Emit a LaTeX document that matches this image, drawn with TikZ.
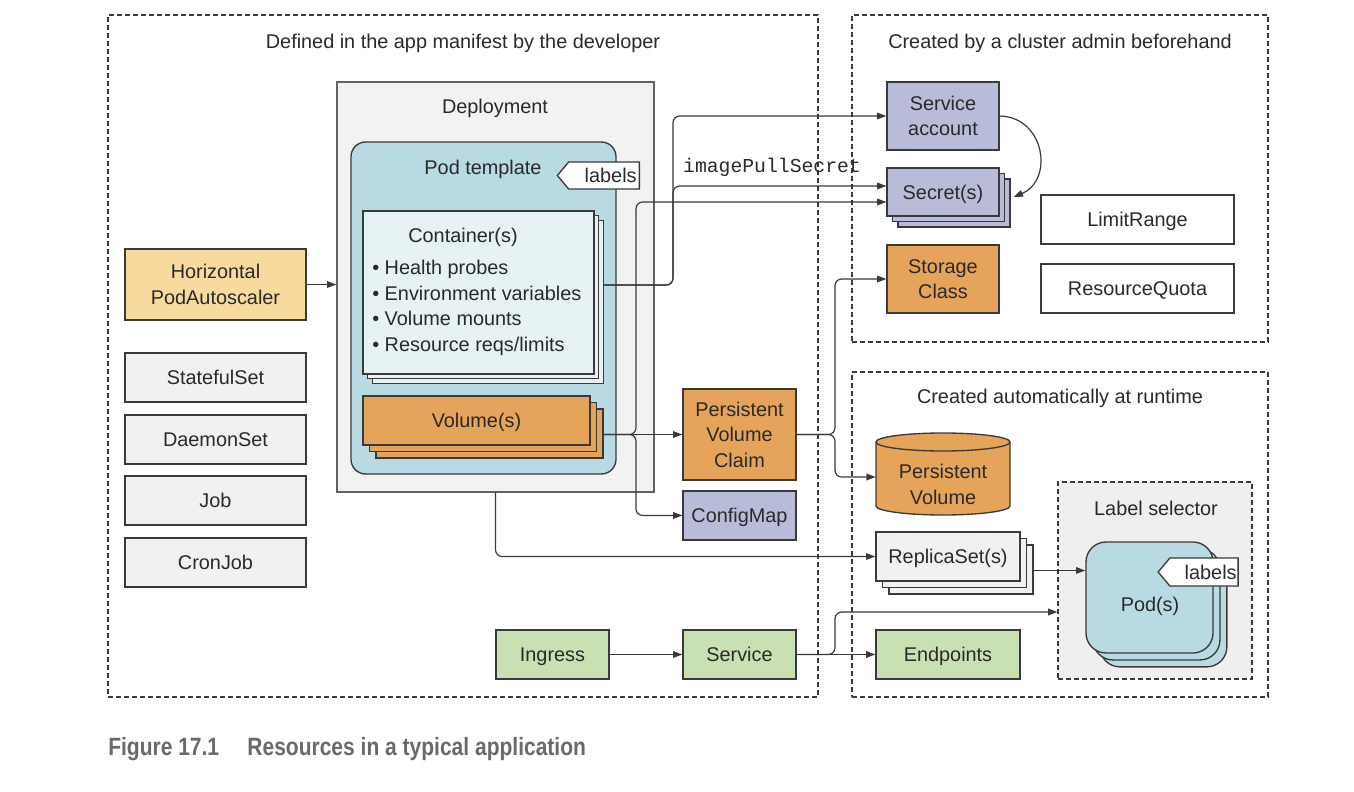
\documentclass[tikz,border=0pt]{standalone}
\usepackage{fontspec}
\setmainfont{Liberation Sans}
\setmonofont{Liberation Mono}
\usetikzlibrary{arrows.meta,shapes.symbols,shadows,calc}
\definecolor{linec}{HTML}{3A3A3A}
\definecolor{txtc}{HTML}{2A2A2A}
\definecolor{grayf}{HTML}{F1F1F1}
\definecolor{depf}{HTML}{F2F2F2}
\definecolor{self}{HTML}{EFEFEF}
\definecolor{podf}{HTML}{B7DAE3}
\definecolor{contf}{HTML}{E6F2F4}
\definecolor{orangef}{HTML}{E6A45A}
\definecolor{hpaf}{HTML}{F8DA9E}
\definecolor{lavf}{HTML}{B8BCD8}
\definecolor{greenf}{HTML}{C9E0B2}
\definecolor{capc}{HTML}{6A6A6A}
\begin{document}
\begin{tikzpicture}[x=0.75pt,y=-0.75pt,
  font=\fontsize{14.9}{19.2}\selectfont, text=txtc,
  wh/.style 2 args={minimum width=#1*0.75pt, minimum height=#2*0.75pt, inner sep=0pt},
  one/.style={text height=10.9pt, text depth=0pt},
  box/.style={draw=linec, line width=1pt, align=center},
  dashbox/.style={draw=linec, line width=0.8pt, dash pattern=on 3.5pt off 2.5pt},
  lbl/.style={inner sep=0pt, align=center},
  tag/.style={draw=linec, line width=1pt, fill=white, signal, signal to=west,
    signal pointer angle=100, inner sep=0pt},
  conn/.style={draw=linec, line width=0.9pt, rounded corners=5pt},
  arr/.style={conn, -{Triangle[length=7pt,width=5pt]}}
]
\useasboundingbox (0,0) rectangle (1354,792);
\fill[white] (0,0) rectangle (1354,792);

% frames
\node[dashbox, wh={710}{682}] (appbox) at (463,356) {};
\node[dashbox, wh={416}{327}] (adminbox) at (1060,178.5) {};
\node[dashbox, wh={416}{325}] (runbox) at (1060,534.5) {};
\node[lbl] (appt) at (463,43) {Defined in the app manifest by the developer};
\node[lbl] (admint) at (1060,43) {Created by a cluster admin beforehand};
\node[lbl] (runt) at (1060,398) {Created automatically at runtime};

% left column
\node[box, fill=hpaf, wh={181}{71}] (hpa) at (215.5,284.5) {Horizontal\\PodAutoscaler};
\node[box, one, fill=grayf, wh={181}{49}] (ss) at (215.5,377.5) {StatefulSet};
\node[box, one, fill=grayf, wh={181}{49}] (dms) at (215.5,439.5) {DaemonSet};
\node[box, one, fill=grayf, wh={181}{49}] (job) at (215.5,500.5) {Job};
\node[box, one, fill=grayf, wh={181}{49}] (cj) at (215.5,562.5) {CronJob};

% deployment
\node[draw=linec!80, line width=1pt, fill=depf, wh={317}{410}] (dep) at (495.5,287) {};
\node[lbl] (dept) at (495,108) {Deployment};
\node[box, fill=podf, rounded corners=11pt, wh={265}{332}] (pt) at (483.5,308) {};
\node[lbl] (ptt) at (483,169) {Pod template};
\node[tag, wh={82}{27}] (ptlab) at (604,175.5) {\hspace{10pt}labels};
\node[box, fill=contf, wh={231}{163},
  double copy shadow={shadow xshift=3.6pt, shadow yshift=-3.6pt}] (cont) at (478.5,292.5) {};
\node[lbl] (contt) at (463,237) {Container(s)};
\node[lbl, anchor=west, align=left, font=\fontsize{14.9}{19.1}\selectfont] (clist) at (372,308)
  {• Health probes\\• Environment variables\\• Volume mounts\\• Resource reqs/limits};
\node[box, one, fill=orangef, wh={227}{49},
  double copy shadow={shadow xshift=4.9pt, shadow yshift=-4.9pt}] (vol) at (476.5,420.5) {Volume(s)};

% middle
\node[box, fill=orangef, wh={113}{91}] (pvc) at (739.5,434.5) {Persistent\\Volume\\Claim};
\node[box, one, fill=lavf, wh={113}{49}] (cm) at (739.5,515.5) {ConfigMap};
\node[box, one, fill=greenf, wh={113}{49}] (ing) at (552.5,654.5) {Ingress};
\node[box, one, fill=greenf, wh={113}{49}] (svc) at (739.5,654.5) {Service};
\node[lbl, font=\fontsize{14.8}{18}\ttfamily] (ips) at (772,167) {imagePullSecret};

% admin
\node[box, fill=lavf, wh={112}{68}] (sa) at (943,116) {Service\\account};
\node[box, one, fill=lavf, wh={112}{48},
  double copy shadow={shadow xshift=4.1pt, shadow yshift=-4.1pt}] (sec) at (943,192) {Secret(s)};
\node[box, fill=orangef, wh={112}{68}] (sc) at (943,279) {Storage\\Class};
\node[box, one, fill=white, wh={193}{49}] (lr) at (1137.5,219.5) {LimitRange};
\node[box, one, fill=white, wh={193}{49}] (rq) at (1137.5,288.5) {ResourceQuota};

% runtime
\filldraw[draw=linec, line width=1pt, fill=orangef] (876,442) -- (876,506)
  arc[start angle=180, end angle=360, x radius=50.25pt, y radius=6.75pt] -- (1010,442)
  arc[start angle=0, end angle=180, x radius=50.25pt, y radius=6.75pt] -- cycle;
\draw[draw=linec, line width=1pt] (876,442)
  arc[start angle=180, end angle=360, x radius=50.25pt, y radius=6.75pt];
\node[lbl, wh={134}{56}] (pv) at (943,484.5) {Persistent\\Volume};
\node[box, one, fill=grayf, wh={144}{49},
  double copy shadow={shadow xshift=4.9pt, shadow yshift=-4.9pt}] (rs) at (948,556.5) {ReplicaSet(s)};
\node[box, one, fill=greenf, wh={144}{49}] (ep) at (948,654.5) {Endpoints};
\node[dashbox, fill=self, wh={194}{197}] (lsel) at (1155,580.5) {};
\node[lbl] (lselt) at (1156,508) {Label selector};
\node[box, fill=podf, rounded corners=15pt, wh={127}{111},
  double copy shadow={shadow xshift=5.2pt, shadow yshift=-5.2pt}] (pods) at (1149.5,597.5) {};
\node[lbl, one] (podst) at (1150,604) {Pod(s)};
\node[tag, wh={80}{28}] (podlab) at (1204,572) {\hspace{10pt}labels};

% connector helpers
\coordinate (cout) at ($(cont.east)+(9,-7.5)$);
\coordinate (cbus) at (673,0);
\coordinate (secA) at ($(sec.west)+(0,-6)$);
\coordinate (secB) at ($(sec.west)+(0,10)$);
\coordinate (vout) at ($(vol.east)+(13,14)$);
\coordinate (vbus) at (636,0);
\coordinate (pbus) at (835,0);
\coordinate (pvin) at ($(pv.west)+(0,-7.5)$);
\coordinate (rout) at ($(rs.east)+(13,14)$);
\coordinate (lsin) at ($(lsel.west)+(0,31.5)$);
\coordinate (sbus) at (835,0);
\coordinate (secC) at ($(sec.east)+(14,5)$);

% connectors
\draw[arr] (hpa.east) -- (hpa.east -| dep.west);
\draw[arr] (cout) -| (cbus |- sa.west) -- (sa.west);
\draw[arr] (cout) -| (cbus |- secA) -- (secA);
\draw[arr] (vout) -- (vout -| pvc.west);
\draw[arr] (vout) -| (vbus |- secB) -- (secB);
\draw[arr] (vout) -| (vbus |- cm.west) -- (cm.west);
\draw[arr] (pvc.east) -| (pbus |- sc.west) -- (sc.west);
\draw[arr] (pvc.east) -| (pbus |- pvin) -- (pvin);
\draw[arr] (dep.south) |- (rs.west);
\draw[arr] (rout) -- (rout -| pods.west);
\draw[arr] (ing) -- (svc);
\draw[arr] (svc) -- (ep);
\draw[arr] (svc.east) -| (sbus |- lsin) -- (lsin);
\draw[arr] (sa.east) .. controls (1045,117) and (1054,180) .. (secC);

% caption
\node[anchor=base west, inner sep=0pt, text=capc, font=\fontsize{18.75}{20}\bfseries\selectfont] (cap) at (108,755)
  {\scalebox{0.84}[1]{Figure 17.1\hspace{1.35em}Resources in a typical application}};
\end{tikzpicture}
\end{document}
